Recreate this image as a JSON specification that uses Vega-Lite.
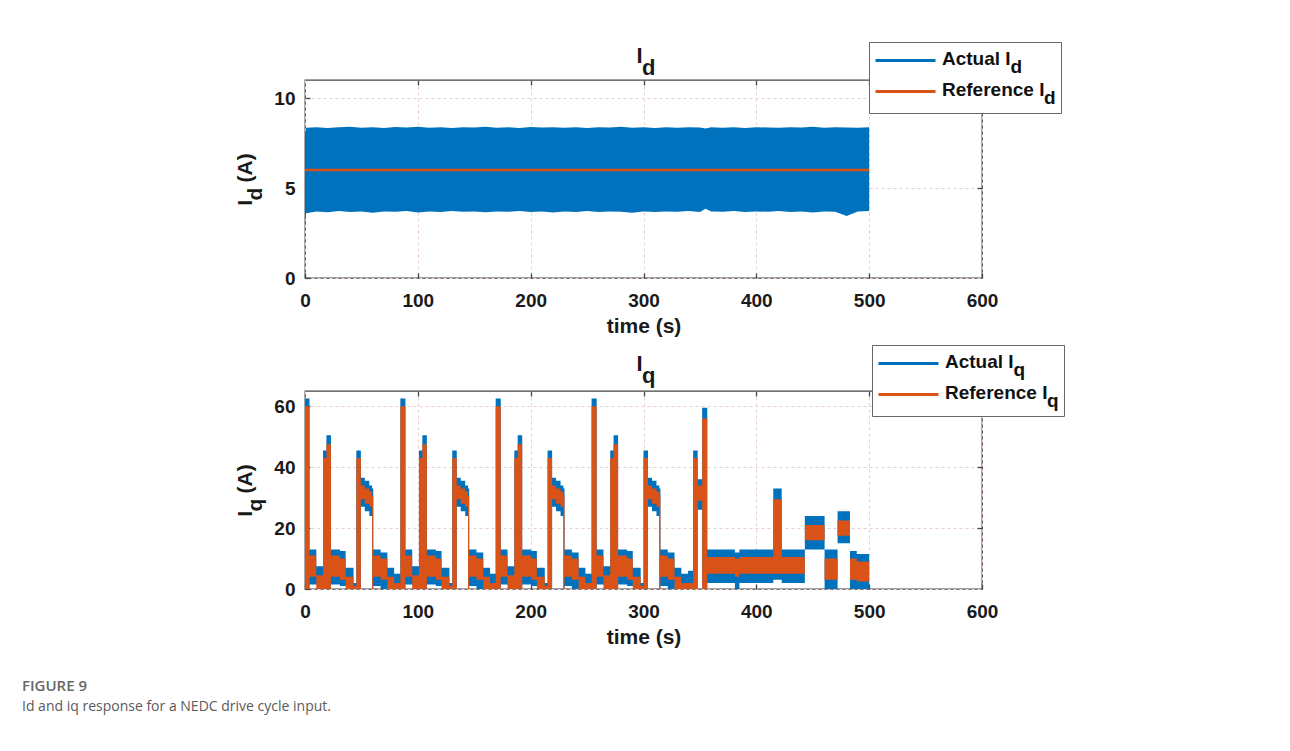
{
  "$schema": "https://vega.github.io/schema/vega-lite/v6.json",
  "autosize": {"type": "none"},
  "padding": {"left": 305, "top": 80, "right": 985, "bottom": 671},
  "background": "white",
  "title": {
    "text": "FIGURE 9",
    "subtitle": "Id and iq response for a NEDC drive cycle input.",
    "orient": "bottom",
    "anchor": "start",
    "frame": "group",
    "dx": -283,
    "offset": 31,
    "font": "Open Sans",
    "fontSize": 15,
    "fontWeight": 600,
    "color": "#666666",
    "subtitleFont": "Open Sans",
    "subtitleFontSize": 14,
    "subtitleFontWeight": 400,
    "subtitleColor": "#5a5a5a",
    "subtitlePadding": 6
  },
  "config": {
    "font": "Liberation Sans",
    "view": {"stroke": "#454545", "strokeWidth": 1.3},
    "axis": {
      "labelFont": "Liberation Sans",
      "labelFontSize": 19,
      "labelFontWeight": "bold",
      "labelColor": "#1a1a1a",
      "labelFlush": false,
      "titleFont": "Liberation Sans",
      "titleFontSize": 21,
      "titleFontWeight": "bold",
      "titleColor": "#1a1a1a",
      "domain": false,
      "tickColor": "#444444",
      "tickWidth": 1.3,
      "tickSize": -5,
      "gridColor": "#ebcfcf",
      "gridDash": [3, 3],
      "gridWidth": 1
    },
    "title": {"font": "Liberation Sans", "fontSize": 22, "fontWeight": "bold", "color": "#1a1a1a"}
  },
  "bounds": "flush",
  "spacing": 113,
  "resolve": {"scale": {"color": "independent"}, "legend": {"color": "independent"}},
  "vconcat": [
    {
      "width": 677,
      "height": 198,
      "title": {"text": ["I", "\u200b\u00a0\u00a0\u00a0d"], "lineHeight": 12, "dx": -4, "offset": -38},
      "data": {"values": [
        {"t": 0, "alo": 3.0, "ahi": 7.9, "rlo": 5.93, "rhi": 6.07},
        {"t": 1, "alo": 3.6, "ahi": 8.35, "rlo": 5.93, "rhi": 6.07},
        {"t": 10, "alo": 3.7, "ahi": 8.38, "rlo": 5.93, "rhi": 6.07},
        {"t": 20, "alo": 3.65, "ahi": 8.33, "rlo": 5.93, "rhi": 6.07},
        {"t": 30, "alo": 3.72, "ahi": 8.37, "rlo": 5.93, "rhi": 6.07},
        {"t": 40, "alo": 3.66, "ahi": 8.4, "rlo": 5.93, "rhi": 6.07},
        {"t": 50, "alo": 3.7, "ahi": 8.35, "rlo": 5.93, "rhi": 6.07},
        {"t": 60, "alo": 3.62, "ahi": 8.38, "rlo": 5.93, "rhi": 6.07},
        {"t": 70, "alo": 3.7, "ahi": 8.34, "rlo": 5.93, "rhi": 6.07},
        {"t": 80, "alo": 3.68, "ahi": 8.39, "rlo": 5.93, "rhi": 6.07},
        {"t": 90, "alo": 3.72, "ahi": 8.36, "rlo": 5.93, "rhi": 6.07},
        {"t": 100, "alo": 3.64, "ahi": 8.4, "rlo": 5.93, "rhi": 6.07},
        {"t": 110, "alo": 3.7, "ahi": 8.35, "rlo": 5.93, "rhi": 6.07},
        {"t": 120, "alo": 3.66, "ahi": 8.38, "rlo": 5.93, "rhi": 6.07},
        {"t": 130, "alo": 3.72, "ahi": 8.33, "rlo": 5.93, "rhi": 6.07},
        {"t": 140, "alo": 3.68, "ahi": 8.37, "rlo": 5.93, "rhi": 6.07},
        {"t": 150, "alo": 3.7, "ahi": 8.36, "rlo": 5.93, "rhi": 6.07},
        {"t": 160, "alo": 3.65, "ahi": 8.4, "rlo": 5.93, "rhi": 6.07},
        {"t": 170, "alo": 3.7, "ahi": 8.35, "rlo": 5.93, "rhi": 6.07},
        {"t": 180, "alo": 3.68, "ahi": 8.37, "rlo": 5.93, "rhi": 6.07},
        {"t": 190, "alo": 3.72, "ahi": 8.34, "rlo": 5.93, "rhi": 6.07},
        {"t": 200, "alo": 3.66, "ahi": 8.39, "rlo": 5.93, "rhi": 6.07},
        {"t": 210, "alo": 3.7, "ahi": 8.36, "rlo": 5.93, "rhi": 6.07},
        {"t": 220, "alo": 3.64, "ahi": 8.38, "rlo": 5.93, "rhi": 6.07},
        {"t": 230, "alo": 3.7, "ahi": 8.35, "rlo": 5.93, "rhi": 6.07},
        {"t": 240, "alo": 3.67, "ahi": 8.37, "rlo": 5.93, "rhi": 6.07},
        {"t": 250, "alo": 3.72, "ahi": 8.34, "rlo": 5.93, "rhi": 6.07},
        {"t": 260, "alo": 3.66, "ahi": 8.38, "rlo": 5.93, "rhi": 6.07},
        {"t": 270, "alo": 3.7, "ahi": 8.36, "rlo": 5.93, "rhi": 6.07},
        {"t": 280, "alo": 3.68, "ahi": 8.4, "rlo": 5.93, "rhi": 6.07},
        {"t": 290, "alo": 3.62, "ahi": 8.35, "rlo": 5.93, "rhi": 6.07},
        {"t": 300, "alo": 3.7, "ahi": 8.37, "rlo": 5.93, "rhi": 6.07},
        {"t": 310, "alo": 3.66, "ahi": 8.34, "rlo": 5.93, "rhi": 6.07},
        {"t": 320, "alo": 3.7, "ahi": 8.38, "rlo": 5.93, "rhi": 6.07},
        {"t": 330, "alo": 3.68, "ahi": 8.35, "rlo": 5.93, "rhi": 6.07},
        {"t": 340, "alo": 3.72, "ahi": 8.37, "rlo": 5.93, "rhi": 6.07},
        {"t": 350, "alo": 3.66, "ahi": 8.36, "rlo": 5.93, "rhi": 6.07},
        {"t": 355, "alo": 3.85, "ahi": 8.3, "rlo": 5.93, "rhi": 6.07},
        {"t": 360, "alo": 3.7, "ahi": 8.38, "rlo": 5.93, "rhi": 6.07},
        {"t": 370, "alo": 3.68, "ahi": 8.35, "rlo": 5.93, "rhi": 6.07},
        {"t": 380, "alo": 3.72, "ahi": 8.37, "rlo": 5.93, "rhi": 6.07},
        {"t": 390, "alo": 3.66, "ahi": 8.34, "rlo": 5.93, "rhi": 6.07},
        {"t": 400, "alo": 3.7, "ahi": 8.38, "rlo": 5.93, "rhi": 6.07},
        {"t": 410, "alo": 3.68, "ahi": 8.36, "rlo": 5.93, "rhi": 6.07},
        {"t": 420, "alo": 3.72, "ahi": 8.35, "rlo": 5.93, "rhi": 6.07},
        {"t": 430, "alo": 3.66, "ahi": 8.38, "rlo": 5.93, "rhi": 6.07},
        {"t": 440, "alo": 3.7, "ahi": 8.36, "rlo": 5.93, "rhi": 6.07},
        {"t": 450, "alo": 3.64, "ahi": 8.4, "rlo": 5.93, "rhi": 6.07},
        {"t": 460, "alo": 3.7, "ahi": 8.35, "rlo": 5.93, "rhi": 6.07},
        {"t": 470, "alo": 3.68, "ahi": 8.37, "rlo": 5.93, "rhi": 6.07},
        {"t": 480, "alo": 3.45, "ahi": 8.36, "rlo": 5.93, "rhi": 6.07},
        {"t": 490, "alo": 3.7, "ahi": 8.35, "rlo": 5.93, "rhi": 6.07},
        {"t": 500, "alo": 3.72, "ahi": 8.37, "rlo": 5.93, "rhi": 6.07}
      ]},
      "layer": [
        {
          "mark": {"type": "area", "interpolate": "linear"},
          "encoding": {
            "x": {"field": "t", "type": "quantitative", "scale": {"domain": [0, 600]},
                  "axis": {"values": [0, 100, 200, 300, 400, 500, 600], "title": "time (s)", "labelPadding": 18, "titlePadding": 5}},
            "y": {"field": "alo", "type": "quantitative", "scale": {"domain": [0, 11]},
                  "axis": {"values": [0, 5, 10], "title": ["\u200bI\u00a0\u00a0\u00a0(A)", "d\u00a0\u00a0\u00a0\u00a0\u00a0\u200b"], "titleLineHeight": 10, "labelPadding": 15, "titlePadding": 8}},
            "y2": {"field": "ahi"},
            "color": {
              "datum": "Actual",
              "scale": {"domain": ["Actual", "Reference"], "range": ["#0072BD", "#D95319"]},
              "legend": {
                "orient": "none", "legendX": 564, "legendY": -38, "title": null,
                "symbolType": "stroke", "symbolSize": 3600, "symbolStrokeWidth": 3,
                "clipHeight": 27, "rowPadding": 1, "padding": 5,
                "labelFont": "Liberation Sans", "labelFontSize": 19, "labelFontWeight": "bold", "labelColor": "#111111",
                "labelOffset": 5, "labelLimit": 400,
                "strokeColor": "#666666", "fillColor": "white",
                "labelExpr": "datum.label == 'Actual' ? ['Actual I', '\u200b\u00a0\u00a0\u00a0\u00a0\u00a0\u00a0\u00a0\u00a0\u00a0\u00a0\u00a0\u00a0\u00a0d'] : ['Reference I', '\u200b\u00a0\u00a0\u00a0\u00a0\u00a0\u00a0\u00a0\u00a0\u00a0\u00a0\u00a0\u00a0\u00a0\u00a0\u00a0\u00a0\u00a0\u00a0\u00a0\u200ad']",
                "encode": {
                  "symbols": {"update": {"stroke": {"signal": "datum.value == 'Actual' ? '#0072BD' : '#D95319'"}}},
                  "labels": {"update": {"lineHeight": {"value": 8}, "dy": {"value": -2}}}
                }
              }
            }
          }
        },
        {
          "mark": {"type": "area", "interpolate": "linear"},
          "encoding": {
            "x": {"field": "t", "type": "quantitative",
                  "axis": {"orient": "top", "values": [100, 200, 300, 400, 500], "labels": false, "title": null, "grid": false}},
            "y": {"field": "rlo", "type": "quantitative",
                  "axis": {"orient": "right", "values": [5, 10], "labels": false, "title": null, "grid": false}},
            "y2": {"field": "rhi"},
            "color": {"datum": "Reference"}
          }
        }
      ],
      "resolve": {"axis": {"x": "independent", "y": "independent"}}
    },
    {
      "width": 677,
      "height": 198,
      "title": {"text": ["I", "\u200b\u00a0\u00a0\u00a0q"], "lineHeight": 12, "dx": -4, "offset": -43},
      "data": {"values": [
        {"t": 0, "alo": 0, "ahi": 62.5, "rlo": 0, "rhi": 60},
        {"t": 4, "alo": 1.5, "ahi": 13, "rlo": 4, "rhi": 11},
        {"t": 10, "alo": 1.5, "ahi": 7.5, "rlo": 0, "rhi": 4.5},
        {"t": 16, "alo": 0, "ahi": 45.5, "rlo": 0, "rhi": 43},
        {"t": 19, "alo": 0, "ahi": 50.5, "rlo": 0, "rhi": 47.5},
        {"t": 23, "alo": 1.5, "ahi": 13, "rlo": 4, "rhi": 11},
        {"t": 31, "alo": 1, "ahi": 12.5, "rlo": 3, "rhi": 10},
        {"t": 36, "alo": 1, "ahi": 7, "rlo": 0, "rhi": 4},
        {"t": 43, "alo": 0, "ahi": 2, "rlo": 0, "rhi": 1},
        {"t": 45.5, "alo": 0, "ahi": 45.5, "rlo": 0, "rhi": 43},
        {"t": 49.5, "alo": 27, "ahi": 36.5, "rlo": 29.5, "rhi": 34},
        {"t": 53, "alo": 25.5, "ahi": 35.5, "rlo": 28, "rhi": 33},
        {"t": 57, "alo": 24, "ahi": 34, "rlo": 27, "rhi": 32},
        {"t": 59.5, "alo": 0, "ahi": 33, "rlo": 0, "rhi": 30.5},
        {"t": 60.5, "alo": 1, "ahi": 13, "rlo": 4, "rhi": 11},
        {"t": 67, "alo": 0, "ahi": 12, "rlo": 3, "rhi": 10},
        {"t": 73, "alo": 0.5, "ahi": 7, "rlo": 0, "rhi": 4},
        {"t": 79, "alo": 0, "ahi": 5, "rlo": 0, "rhi": 2},
        {"t": 84.5, "alo": 0, "ahi": 62.5, "rlo": 0, "rhi": 60},
        {"t": 89, "alo": 1.5, "ahi": 13, "rlo": 4, "rhi": 11},
        {"t": 95, "alo": 1.5, "ahi": 7.5, "rlo": 0, "rhi": 4.5},
        {"t": 101, "alo": 0, "ahi": 45.5, "rlo": 0, "rhi": 43},
        {"t": 104, "alo": 0, "ahi": 50.5, "rlo": 0, "rhi": 47.5},
        {"t": 108, "alo": 1.5, "ahi": 13, "rlo": 4, "rhi": 11},
        {"t": 116, "alo": 1, "ahi": 12.5, "rlo": 3, "rhi": 10},
        {"t": 121, "alo": 1, "ahi": 7, "rlo": 0, "rhi": 4},
        {"t": 128, "alo": 0, "ahi": 2, "rlo": 0, "rhi": 1},
        {"t": 130.5, "alo": 0, "ahi": 45.5, "rlo": 0, "rhi": 43},
        {"t": 134.5, "alo": 27, "ahi": 36.5, "rlo": 29.5, "rhi": 34},
        {"t": 138, "alo": 25.5, "ahi": 35.5, "rlo": 28, "rhi": 33},
        {"t": 142, "alo": 24, "ahi": 34, "rlo": 27, "rhi": 32},
        {"t": 144.5, "alo": 0, "ahi": 33, "rlo": 0, "rhi": 30.5},
        {"t": 145.5, "alo": 1, "ahi": 13, "rlo": 4, "rhi": 11},
        {"t": 152, "alo": 0, "ahi": 12, "rlo": 3, "rhi": 10},
        {"t": 158, "alo": 0.5, "ahi": 7, "rlo": 0, "rhi": 4},
        {"t": 164, "alo": 0, "ahi": 5, "rlo": 0, "rhi": 2},
        {"t": 169, "alo": 0, "ahi": 62.5, "rlo": 0, "rhi": 60},
        {"t": 173.5, "alo": 1.5, "ahi": 13, "rlo": 4, "rhi": 11},
        {"t": 179.5, "alo": 1.5, "ahi": 7.5, "rlo": 0, "rhi": 4.5},
        {"t": 185.5, "alo": 0, "ahi": 45.5, "rlo": 0, "rhi": 43},
        {"t": 188.5, "alo": 0, "ahi": 50.5, "rlo": 0, "rhi": 47.5},
        {"t": 192.5, "alo": 1.5, "ahi": 13, "rlo": 4, "rhi": 11},
        {"t": 200.5, "alo": 1, "ahi": 12.5, "rlo": 3, "rhi": 10},
        {"t": 205.5, "alo": 1, "ahi": 7, "rlo": 0, "rhi": 4},
        {"t": 212.5, "alo": 0, "ahi": 2, "rlo": 0, "rhi": 1},
        {"t": 215, "alo": 0, "ahi": 45.5, "rlo": 0, "rhi": 43},
        {"t": 219, "alo": 27, "ahi": 36.5, "rlo": 29.5, "rhi": 34},
        {"t": 222.5, "alo": 25.5, "ahi": 35.5, "rlo": 28, "rhi": 33},
        {"t": 226.5, "alo": 24, "ahi": 34, "rlo": 27, "rhi": 32},
        {"t": 229, "alo": 0, "ahi": 33, "rlo": 0, "rhi": 30.5},
        {"t": 230, "alo": 1, "ahi": 13, "rlo": 4, "rhi": 11},
        {"t": 236.5, "alo": 0, "ahi": 12, "rlo": 3, "rhi": 10},
        {"t": 242.5, "alo": 0.5, "ahi": 7, "rlo": 0, "rhi": 4},
        {"t": 248.5, "alo": 0, "ahi": 5, "rlo": 0, "rhi": 2},
        {"t": 254, "alo": 0, "ahi": 62.5, "rlo": 0, "rhi": 60},
        {"t": 258.5, "alo": 1.5, "ahi": 13, "rlo": 4, "rhi": 11},
        {"t": 264.5, "alo": 1.5, "ahi": 7.5, "rlo": 0, "rhi": 4.5},
        {"t": 270.5, "alo": 0, "ahi": 45.5, "rlo": 0, "rhi": 43},
        {"t": 273.5, "alo": 0, "ahi": 50.5, "rlo": 0, "rhi": 47.5},
        {"t": 277.5, "alo": 1.5, "ahi": 13, "rlo": 4, "rhi": 11},
        {"t": 285.5, "alo": 1, "ahi": 12.5, "rlo": 3, "rhi": 10},
        {"t": 290.5, "alo": 1, "ahi": 7, "rlo": 0, "rhi": 4},
        {"t": 297.5, "alo": 0, "ahi": 2, "rlo": 0, "rhi": 1},
        {"t": 300, "alo": 0, "ahi": 45.5, "rlo": 0, "rhi": 43},
        {"t": 304, "alo": 27, "ahi": 36.5, "rlo": 29.5, "rhi": 34},
        {"t": 307.5, "alo": 25.5, "ahi": 35.5, "rlo": 28, "rhi": 33},
        {"t": 311.5, "alo": 24, "ahi": 34, "rlo": 27, "rhi": 32},
        {"t": 314, "alo": 0, "ahi": 33, "rlo": 0, "rhi": 30.5},
        {"t": 315, "alo": 1, "ahi": 13, "rlo": 4, "rhi": 11},
        {"t": 321.5, "alo": 0, "ahi": 12, "rlo": 3, "rhi": 10},
        {"t": 327.5, "alo": 0.5, "ahi": 7, "rlo": 0, "rhi": 4},
        {"t": 333.5, "alo": 0, "ahi": 5, "rlo": 0, "rhi": 2},
        {"t": 339.5, "alo": 0, "ahi": 6, "rlo": 0, "rhi": 2},
        {"t": 344, "alo": 0, "ahi": 45.5, "rlo": 0, "rhi": 43},
        {"t": 348, "alo": 26, "ahi": 36, "rlo": 29, "rhi": 34},
        {"t": 352, "alo": 0, "ahi": 59.5, "rlo": 0, "rhi": 56},
        {"t": 356.5, "alo": 2, "ahi": 13, "rlo": 5, "rhi": 10.5},
        {"t": 381, "alo": 0, "ahi": 12, "rlo": 4, "rhi": 10},
        {"t": 385, "alo": 2, "ahi": 13, "rlo": 5, "rhi": 10.5},
        {"t": 415, "alo": 3, "ahi": 33, "rlo": 5, "rhi": 29.5},
        {"t": 422.5, "alo": 2, "ahi": 13, "rlo": 5, "rhi": 10.5},
        {"t": 443, "alo": 13, "ahi": 24, "rlo": 16, "rhi": 21},
        {"t": 460.5, "alo": 0, "ahi": 13, "rlo": 3, "rhi": 10},
        {"t": 472, "alo": 15, "ahi": 25.5, "rlo": 17.5, "rhi": 22.5},
        {"t": 483, "alo": 0, "ahi": 12.5, "rlo": 3, "rhi": 10},
        {"t": 489, "alo": 0, "ahi": 11.5, "rlo": 2.5, "rhi": 9},
        {"t": 500, "alo": 0, "ahi": 11.5, "rlo": 2.5, "rhi": 9}
      ]},
      "layer": [
        {
          "mark": {"type": "area", "interpolate": "step-after"},
          "encoding": {
            "x": {"field": "t", "type": "quantitative", "scale": {"domain": [0, 600]},
                  "axis": {"values": [0, 100, 200, 300, 400, 500, 600], "title": "time (s)", "labelPadding": 18, "titlePadding": 5}},
            "y": {"field": "alo", "type": "quantitative", "scale": {"domain": [0, 65]},
                  "axis": {"values": [0, 20, 40, 60], "title": ["\u200bI\u00a0\u00a0\u00a0(A)", "q\u00a0\u00a0\u00a0\u00a0\u00a0\u200b"], "titleLineHeight": 10, "labelPadding": 15, "titlePadding": 8}},
            "y2": {"field": "ahi"},
            "color": {
              "datum": "Actual",
              "scale": {"domain": ["Actual", "Reference"], "range": ["#0072BD", "#D95319"]},
              "legend": {
                "orient": "none", "legendX": 567, "legendY": -46, "title": null,
                "symbolType": "stroke", "symbolSize": 3600, "symbolStrokeWidth": 3,
                "clipHeight": 27, "rowPadding": 1, "padding": 5,
                "labelFont": "Liberation Sans", "labelFontSize": 19, "labelFontWeight": "bold", "labelColor": "#111111",
                "labelOffset": 5, "labelLimit": 400,
                "strokeColor": "#666666", "fillColor": "white",
                "labelExpr": "datum.label == 'Actual' ? ['Actual I', '\u200b\u00a0\u00a0\u00a0\u00a0\u00a0\u00a0\u00a0\u00a0\u00a0\u00a0\u00a0\u00a0\u00a0q'] : ['Reference I', '\u200b\u00a0\u00a0\u00a0\u00a0\u00a0\u00a0\u00a0\u00a0\u00a0\u00a0\u00a0\u00a0\u00a0\u00a0\u00a0\u00a0\u00a0\u00a0\u00a0\u200aq']",
                "encode": {
                  "symbols": {"update": {"stroke": {"signal": "datum.value == 'Actual' ? '#0072BD' : '#D95319'"}}},
                  "labels": {"update": {"lineHeight": {"value": 8}, "dy": {"value": -2}}}
                }
              }
            }
          }
        },
        {
          "mark": {"type": "area", "interpolate": "step-after"},
          "encoding": {
            "x": {"field": "t", "type": "quantitative",
                  "axis": {"orient": "top", "values": [100, 200, 300, 400, 500], "labels": false, "title": null, "grid": false}},
            "y": {"field": "rlo", "type": "quantitative",
                  "axis": {"orient": "right", "values": [20, 40, 60], "labels": false, "title": null, "grid": false}},
            "y2": {"field": "rhi"},
            "color": {"datum": "Reference"}
          }
        }
      ],
      "resolve": {"axis": {"x": "independent", "y": "independent"}}
    }
  ]
}
